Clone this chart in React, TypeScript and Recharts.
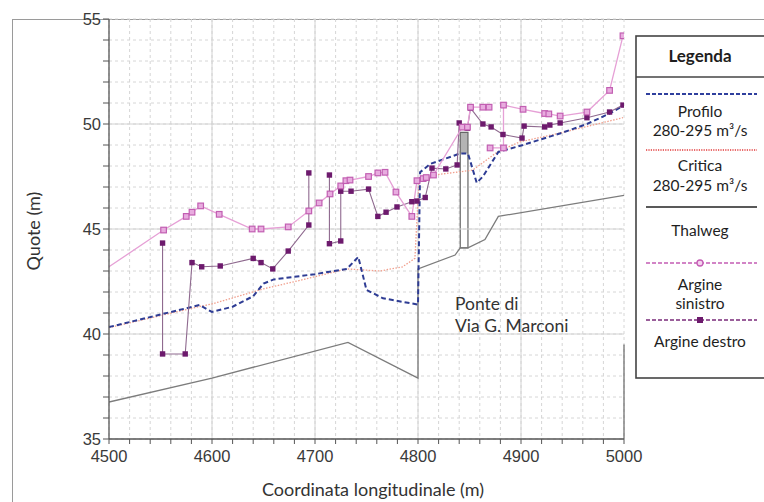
import React from 'react';
import { LineChart, Line, XAxis, YAxis, CartesianGrid, ReferenceLine, ReferenceArea } from 'recharts';

// [coordinata (m), quota (m)] — null quota breaks the line
type Pair = [number, number | null];

const thalwegPts: Pair[] = [
  [4500, 36.76], [4600, 37.9], [4732, 39.6], [4800, 37.9], [4800, 43.1],
  [4836, 43.76], [4841, 44.1], [4848.5, 44.1], [4865, 44.5], [4878, 45.6], [5000, 46.6],
];

const profiloPts: Pair[] = [
  [4500, 40.33], [4588, 41.38], [4600, 41.05], [4620, 41.3], [4640, 41.8], [4650, 42.4],
  [4660, 42.6], [4700, 42.85], [4731, 43.1], [4742, 43.67], [4750, 42.1], [4766, 41.7],
  [4800, 41.4], [4802, 47.7], [4812, 48.1], [4841, 48.6], [4848.5, 48.6], [4857, 47.2],
  [4863, 47.5], [4878, 48.67], [4902, 49.0], [4941, 49.6], [4964, 50.0], [4986, 50.5], [4999, 50.86],
];

const criticaPts: Pair[] = [
  [4500, 40.3], [4587, 41.3], [4600, 41.43], [4650, 42.15], [4685, 42.55], [4731, 43.1],
  [4763, 43.0], [4785, 43.2], [4797, 43.6], [4801, 47.3], [4820, 47.6], [4853, 47.8],
  [4878, 48.7], [4899, 49.15], [4938, 49.57], [4999, 50.3],
];

const sinistroPts: Pair[] = [
  [4500, 43.2], [4553, 44.95], [4575, 45.6], [4580.6, 45.8], [4589, 46.1], [4607, 45.7],
  [4639, 45.0], [4647.6, 45.0], [4674, 45.1], [4694, 45.86], [4704, 46.24], [4714.6, 46.67],
  [4725, 47.05], [4730, 47.3], [4734, 47.33], [4752, 47.5], [4761, 47.67], [4768, 47.7],
  [4778.6, 46.76], [4794, 45.6], [4799, 47.3], [4805, 47.4], [4808, 47.45], [4815, 47.57],
  [4843, 49.85], [4848, 49.85], [4851, 50.8], [4863, 50.8], [4869, 50.8], [4869.5, null],
  [4870, 48.86], [4883, 48.86], [4883, 50.9], [4902, 50.7], [4923, 50.5], [4927, 50.48],
  [4938, 50.38], [4964, 50.57], [4986, 51.6], [4999, 54.2],
];

const destroPts: Pair[] = [
  [4552, 44.33], [4552, 39.05], [4574, 39.05], [4580.6, 43.4], [4590, 43.2], [4608, 43.24],
  [4640, 43.6], [4647.6, 43.4], [4659, 43.1], [4674, 43.95], [4694, 45.19], [4694, 47.67],
  [4704, null], [4714, 47.57], [4714, 44.3], [4725, 44.43], [4725, 46.8], [4735, 46.8],
  [4752, 46.9], [4761, 45.6], [4769, 45.8], [4779.6, 46.05], [4794, 46.3], [4799, 46.33],
  [4807, 46.5], [4813.6, 47.9], [4827, 47.86], [4838, 48.05], [4840, 50.05], [4844, 49.86],
  [4848, 49.8], [4851, 50.76], [4863, 50.0], [4871, 49.86], [4882.5, 49.5], [4901, 49.33],
  [4903, 49.9], [4923, 49.86], [4928, 49.95], [4938, 50.05], [4964, 50.3], [4986, 50.57], [4999, 50.9],
];

// pila del ponte: [x1, x2, fondo, sommità, inizio riempimento]
const pila = { x1: 4841, x2: 4848.5, base: 44.1, top: 49.6, fillFrom: 48.6 };

const xTicks: number[] = [];
for (let v = 4500; v <= 5000; v += 20) xTicks.push(v);
const yTicks: number[] = [];
for (let v = 35; v <= 55; v += 1) yTicks.push(v);
const xMajor = [4600, 4700, 4800, 4900];
const yMajor = [40, 45, 50];

const toData = (pts: Pair[]) => pts.map(([x, y]) => ({ x, y }));

const LABEL_FONT = 'Lato, "Open Sans", sans-serif';
const TICK_FONT = '"Liberation Sans", Arial, sans-serif';

const SinistroDot = (props: any) => {
  const { cx, cy, index, payload } = props;
  if (index === 0 || payload?.y == null || cx == null || cy == null) return <g key={`s-${index}`} />;
  return (
    <rect key={`s-${index}`} x={cx - 2.8} y={cy - 2.8} width={5.6} height={5.6}
      fill="#e8acdf" stroke="#c25fb2" strokeWidth={1.2} />
  );
};

const DestroDot = (props: any) => {
  const { cx, cy, index, payload } = props;
  if (payload?.y == null || cx == null || cy == null) return <g key={`d-${index}`} />;
  return <rect key={`d-${index}`} x={cx - 2.7} y={cy - 2.7} width={5.4} height={5.4} fill="#6d1a6d" />;
};

const LegendBox = () => {
  const cx = 65;
  const txt = { fontFamily: LABEL_FONT, fontSize: 15.5, fill: '#1e1e1e', textAnchor: 'middle' as const };
  return (
    <svg width={140} height={345} style={{ position: 'absolute', left: 635, top: 35 }}>
      <rect x={1} y={1} width={150} height={342} fill="#fff" stroke="#444" strokeWidth={1.6} />
      <text x={cx} y={27} {...txt} fontWeight="bold" fontSize={17}>Legenda</text>
      <line x1={1} x2={140} y1={42} y2={42} stroke="#444" strokeWidth={1.4} />

      <line x1={11} x2={122} y1={59} y2={59} stroke="#2f3f9e" strokeWidth={2} strokeDasharray="4 2" />
      <text x={cx} y={82} {...txt}>Profilo</text>
      <text x={cx} y={101} {...txt}>280-295 m³/s</text>

      <line x1={11} x2={122} y1={115} y2={115} stroke="#e23a3a" strokeWidth={1.6} strokeDasharray="1.2 1.2" />
      <text x={cx} y={136} {...txt}>Critica</text>
      <text x={cx} y={156} {...txt}>280-295 m³/s</text>

      <line x1={11} x2={122} y1={172} y2={172} stroke="#222" strokeWidth={1.4} />
      <text x={cx} y={201} {...txt}>Thalweg</text>

      <line x1={11} x2={122} y1={228} y2={228} stroke="#c45cb4" strokeWidth={1.3} strokeDasharray="4 2" />
      <circle cx={cx} cy={228} r={3} fill="#f4d4ee" stroke="#c45cb4" strokeWidth={1.3} />
      <text x={cx} y={255} {...txt}>Argine</text>
      <text x={cx} y={274} {...txt}>sinistro</text>

      <line x1={11} x2={122} y1={285} y2={285} stroke="#7a2a7a" strokeWidth={1.3} strokeDasharray="4 2" />
      <rect x={cx - 3} y={282} width={6} height={6} fill="#6d1a6d" />
      <text x={cx} y={312} {...txt}>Argine destro</text>
    </svg>
  );
};

export default function App() {
  return (
    <div style={{ position: 'absolute', left: 0, top: 0, width: 764, height: 502, overflow: 'hidden', background: '#fff' }}>
      {/* cornice esterna */}
      <div style={{ position: 'absolute', left: 12, top: 19, width: 800, height: 600, borderLeft: '1.5px solid #9a9a9a', borderTop: '1.5px solid #9a9a9a' }} />
      <LineChart width={764} height={502} margin={{ top: 19, right: 140, bottom: 33, left: 0 }}
        style={{ position: 'absolute', left: 0, top: 0 }}>
        <CartesianGrid stroke="#d6d6d6" strokeDasharray="3 3" />
        {xMajor.map((v) => (
          <ReferenceLine key={`vx-${v}`} x={v} stroke="#d2d2d2" strokeWidth={1} />
        ))}
        {yMajor.map((v) => (
          <ReferenceLine key={`hy-${v}`} y={v} stroke="#d2d2d2" strokeWidth={1} />
        ))}
        <XAxis type="number" dataKey="x" domain={[4500, 5000]} ticks={xTicks} interval={0}
          allowDataOverflow height={30} tickMargin={6}
          tickFormatter={(v: number) => (v % 100 === 0 ? String(v) : '')}
          axisLine={{ stroke: '#555', strokeWidth: 1.3 }} tickLine={{ stroke: '#555' }} tickSize={5}
          tick={{ fontFamily: TICK_FONT, fontSize: 16.5, fill: '#3a3a3a' }} />
        <YAxis type="number" domain={[35, 55]} ticks={yTicks} interval={0} width={109}
          allowDataOverflow
          tickFormatter={(v: number) => (v % 5 === 0 ? String(v) : '')}
          axisLine={{ stroke: '#555', strokeWidth: 1.3 }} tickLine={{ stroke: '#555' }} tickSize={6}
          tick={{ fontFamily: TICK_FONT, fontSize: 16.5, fill: '#3a3a3a' }} />
        <ReferenceLine segment={[{ x: 5000, y: 35 }, { x: 5000, y: 39.5 }]} stroke="#666" strokeWidth={1.2} />
        <ReferenceArea x1={pila.x1} x2={pila.x2} y1={pila.fillFrom} y2={pila.top} fill="#b4b4b4" fillOpacity={1} stroke="none" />
        <ReferenceArea x1={pila.x1} x2={pila.x2} y1={pila.base} y2={pila.top} fill="none" stroke="#666" strokeWidth={1.2} />
        <Line data={toData(thalwegPts)} dataKey="y" stroke="#7c7c7c" strokeWidth={1.3} dot={false} isAnimationActive={false} />
        <Line data={toData(criticaPts)} dataKey="y" stroke="#f1a08e" strokeWidth={1.3} strokeDasharray="1.5 1.5" dot={false} isAnimationActive={false} />
        <Line data={toData(profiloPts)} dataKey="y" stroke="#2e3c94" strokeWidth={2} strokeDasharray="5 3" dot={false} isAnimationActive={false} />
        <Line data={toData(destroPts)} dataKey="y" stroke="#8f6a8f" strokeWidth={1.1} dot={DestroDot} activeDot={false} isAnimationActive={false} />
        <Line data={toData(sinistroPts)} dataKey="y" stroke="#e6a0d6" strokeWidth={1.3} dot={SinistroDot} activeDot={false} isAnimationActive={false} />
      </LineChart>
      <div style={{ position: 'absolute', left: 33, top: 231, transform: 'translate(-50%, -50%) rotate(-90deg)', fontFamily: LABEL_FONT, fontSize: 18, color: '#333', whiteSpace: 'nowrap' }}>
        Quote (m)
      </div>
      <div style={{ position: 'absolute', left: 373, top: 489, transform: 'translate(-50%, -50%)', fontFamily: LABEL_FONT, fontSize: 18, color: '#333', whiteSpace: 'nowrap' }}>
        Coordinata longitudinale (m)
      </div>
      <div style={{ position: 'absolute', left: 455, top: 293, fontFamily: LABEL_FONT, fontSize: 17.5, lineHeight: '22px', color: '#333', whiteSpace: 'nowrap' }}>
        Ponte di<br />Via G. Marconi
      </div>
      <LegendBox />
    </div>
  );
}
